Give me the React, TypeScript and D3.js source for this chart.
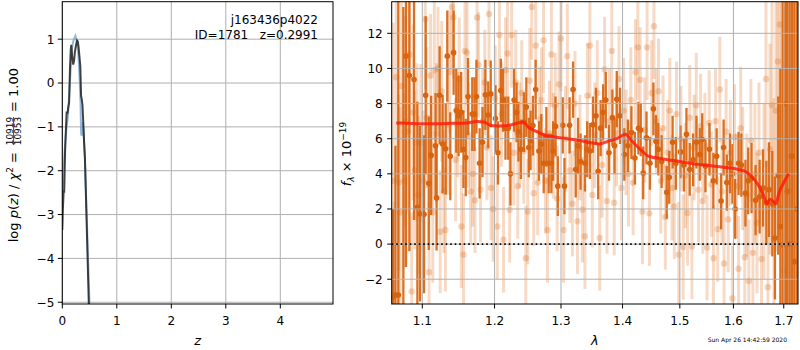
import React from 'react';
import * as d3 from 'd3';

// ---------- Left panel: redshift probability ----------
const Z_FIT = [0.0, 0.01, 0.025, 0.035, 0.05, 0.065, 0.08, 0.095, 0.11, 0.125, 0.14, 0.155, 0.165, 0.18, 0.2, 0.215, 0.23, 0.25, 0.27, 0.285, 0.3, 0.315, 0.33, 0.345, 0.355, 0.37, 0.385, 0.4, 0.415, 0.43, 0.445, 0.46, 0.475, 0.49, 0.505];
const LOGP_FIT = [-3.35, -2.9, -2.45, -2.5, -1.6, -1.1, -0.65, -0.7, -0.55, -0.45, 0.3, 0.75, 0.87, 0.6, 0.42, 0.5, 0.7, 0.85, 0.97, 0.95, 0.8, 0.6, 0.4, -0.3, -0.35, -0.5, -0.9, -1.35, -1.7, -2.4, -3.1, -3.8, -4.5, -5.2, -5.6];
const Z_PRIOR = [0.0, 0.02, 0.04, 0.06, 0.08, 0.1, 0.12, 0.14, 0.16, 0.18, 0.2, 0.22, 0.24, 0.26, 0.28, 0.3, 0.32, 0.335, 0.345, 0.355, 0.37, 0.39, 0.41, 0.43, 0.45, 0.47, 0.49, 0.51];
const LOGP_PRIOR = [-2.6, -2.1, -1.6, -1.25, -1.0, -0.8, -0.4, 0.0, 0.45, 0.8, 0.95, 1.02, 1.08, 1.0, 0.85, 0.55, 0.05, -0.5, -1.15, -1.2, -0.9, -1.1, -1.6, -2.3, -3.1, -3.9, -4.7, -5.5];
const Z_TICKS = [0, 1, 2, 3, 4];
const LOGP_TICKS = [-5, -4, -3, -2, -1, 0, 1];

// ---------- Right panel: spectrum ----------
const BIN_LAM = [1.0617, 1.0650, 1.0687, 1.0752, 1.0786, 1.0830, 1.0891, 1.0935, 1.0970, 1.1023, 1.1045, 1.1086, 1.1118, 1.1177, 1.1191, 1.1232, 1.1273, 1.1314, 1.1336, 1.1377, 1.1423, 1.1459, 1.1491, 1.1527, 1.1559, 1.1591, 1.1623, 1.1682, 1.1714, 1.1741, 1.1786, 1.1827, 1.1868, 1.1909, 1.1945, 1.2014, 1.2050, 1.2091, 1.2123, 1.2159, 1.2200, 1.2232, 1.2286, 1.2323, 1.2350, 1.2386, 1.2432, 1.2468, 1.2505, 1.2532, 1.2568, 1.2609, 1.2659, 1.2695, 1.2732, 1.2773, 1.2809, 1.2850, 1.2877, 1.2914, 1.2950, 1.3027, 1.3054, 1.3135, 1.3190, 1.3232, 1.3270, 1.3310, 1.3380, 1.3416, 1.3460, 1.3510, 1.3560, 1.3595, 1.3635, 1.3676, 1.3720, 1.3773, 1.3830, 1.3865, 1.3903, 1.3957, 1.4030, 1.4090, 1.4150, 1.4210, 1.4270, 1.4310, 1.4353, 1.4410, 1.4470, 1.4530, 1.4575, 1.4616, 1.4675, 1.4765, 1.4810, 1.4870, 1.4928, 1.5012, 1.5073, 1.5120, 1.5180, 1.5242, 1.5303, 1.5364, 1.5410, 1.5470, 1.5545, 1.5618, 1.5680, 1.5764, 1.5812, 1.5873, 1.5933, 1.5982, 1.6033, 1.6100, 1.6153, 1.6233, 1.6287, 1.6353, 1.6433, 1.6513, 1.6580, 1.6647, 1.6700, 1.6767, 1.6820, 1.6887, 1.6930, 1.6980, 1.7033, 1.7070, 1.7120, 1.7170, 1.7220, 1.7270];
const BIN_FLUX = [-3.0, -2.9, -2.9, -4.5, 10.7, 9.6, 9.37, 2.1, 1.73, 1.7, 8.47, 3.46, 5.05, 5.6, 2.63, 8.47, 5.7, 5.43, 10.7, 5.0, 10.9, 7.6, 7.3, 7.5, 5.4, 4.93, 8.4, 7.4, 7.4, 8.4, 4.6, 5.8, 8.5, 7.35, 8.55, 7.15, 5.2, 8.75, 8.2, 6.6, 6.6, 4.0, 8.2, 7.5, 6.4, 5.4, 6.95, 7.8, 5.5, 5.9, 6.75, 8.8, 5.3, 5.7, 4.6, 6.1, 4.6, 4.6, 5.3, 6.7, 3.3, 6.76, 3.3, 6.76, 8.8, 4.25, 5.6, 4.7, 4.6, 5.4, 5.3, 6.8, 7.3, 4.15, 6.6, 7.5, 8.2, 5.2, 7.2, 5.6, 8.25, 7.3, 5.1, 5.6, 6.35, 4.9, 6.6, 6.5, 4.05, 6.05, 4.6, 7.7, 5.85, 5.4, 4.7, 2.95, 3.8, 5.8, 4.6, 5.25, 4.5, 6.25, 4.25, 4.8, 5.8, 5.1, 5.95, 4.45, 5.4, 3.6, 5.0, 2.45, 5.5, 3.5, 4.6, 4.0, 2.0, 4.6, 4.5, 2.9, 3.6, 3.75, 2.5, 2.7, 3.2, 2.35, 3.1, 2.3, 0.35, 3.9, 1.0, -0.05, 8.0, 3.0, 0.0, 5.0, -1.0, 2.0];
const BIN_ERR = [
  5, 8.5, 20, 18, 12, 10, 8, 6, 5, 4.5,
  4.5, 3.8, 3.4, 3.0, 3.0, 2.8, 2.8, 2.6, 2.6, 2.5,
  2.4, 2.4, 2.3, 2.3, 2.2, 2.2, 2.2, 2.1, 2.1, 2.1,
  2.0, 2.0, 2.0, 1.9, 1.9, 1.9, 1.8, 1.8, 1.8, 1.8,
  1.8, 1.8, 1.8, 1.7, 1.7, 1.7, 1.7, 1.7, 1.7, 1.7,
  1.7, 1.7, 1.7, 1.7, 1.7, 1.7, 1.7, 1.7, 1.7, 1.7, 1.7,
  1.6, 1.6, 1.6, 1.6, 1.6, 1.6, 1.6, 1.6, 1.6, 1.6,
  1.6, 1.6, 1.6, 1.6, 1.6, 1.6, 1.6, 1.6, 1.6, 1.6, 1.6,
  1.5, 1.5, 1.5, 1.5, 1.5, 1.5, 1.5, 1.5, 1.5, 1.5,
  1.5, 1.5, 1.5, 1.5, 1.5, 1.5, 1.5, 1.5, 1.5, 1.5,
  1.5, 1.5, 1.5, 1.5, 1.5, 1.5, 1.5, 1.6, 1.6, 1.6,
  1.6, 1.6, 1.7, 1.7, 1.7, 1.8, 1.8, 1.9, 1.9, 2.0,
  2.0, 2.1, 2.2, 2.4, 2.7, 3.0, 3.5, 4.5, 9, 14,
  14, 16, 18, 20, 20, 22,
];

const RAW_LAM = [1.062, 1.064, 1.066, 1.069, 1.071, 1.073, 1.076, 1.078, 1.081, 1.083, 1.086, 1.088, 1.090, 1.093, 1.095, 1.098, 1.101, 1.104, 1.106, 1.109, 1.111, 1.114, 1.116, 1.119, 1.121, 1.124, 1.126, 1.129, 1.131, 1.134, 1.137, 1.140, 1.142, 1.145, 1.148, 1.150, 1.153, 1.156, 1.158, 1.161, 1.163, 1.166, 1.169, 1.172, 1.175, 1.177, 1.180, 1.183, 1.186, 1.189, 1.192, 1.195, 1.198, 1.201, 1.204, 1.207, 1.210, 1.213, 1.216, 1.219, 1.222, 1.225, 1.228, 1.231, 1.234, 1.237, 1.240, 1.243, 1.246, 1.249, 1.252, 1.255, 1.258, 1.261, 1.264, 1.267, 1.270, 1.273, 1.276, 1.279, 1.282, 1.285, 1.288, 1.291, 1.294, 1.297, 1.300, 1.304, 1.307, 1.310, 1.314, 1.318, 1.322, 1.326, 1.330, 1.334, 1.338, 1.342, 1.346, 1.350, 1.354, 1.358, 1.362, 1.366, 1.370, 1.374, 1.378, 1.382, 1.386, 1.390, 1.394, 1.398, 1.402, 1.406, 1.410, 1.414, 1.418, 1.422, 1.426, 1.430, 1.434, 1.438, 1.442, 1.446, 1.450, 1.454, 1.458, 1.462, 1.466, 1.470, 1.474, 1.478, 1.482, 1.486, 1.490, 1.494, 1.498, 1.502, 1.506, 1.510, 1.514, 1.518, 1.522, 1.526, 1.530, 1.534, 1.538, 1.542, 1.546, 1.550, 1.554, 1.558, 1.562, 1.566, 1.570, 1.574, 1.578, 1.582, 1.586, 1.590, 1.594, 1.598, 1.602, 1.606, 1.610, 1.614, 1.618, 1.622, 1.626, 1.630, 1.634, 1.638, 1.642, 1.646, 1.650, 1.655, 1.660, 1.664, 1.668, 1.672, 1.676, 1.680, 1.684, 1.688, 1.692, 1.696, 1.700, 1.705, 1.710, 1.715, 1.720];
const RAW_FLUX = [3.6, -3.6, 9.5, 3.5, 1.8, 9.0, 3.6, 7.0, 6.4, 10.8, -2.7, 7.5, 4.2, 5.8, 2.8, 5.75, 3.6, 12.8, 7.2, -1.6, 9.6, 1.8, 9.9, 6.3, 10.0, 0.7, 8.7, 3.0, 0.8, 6.8, 9.8, 13.5, 12.9, 4.8, 6.8, 9.4, 1.0, -0.6, 11.0, 10.9, 6.2, 3.0, 4.0, 2.5, 12.9, 10.2, 3.1, 7.0, 9.2, 5.5, 13.1, 3.2, 2.0, 8.3, 1.0, 11.9, 7.4, 0.25, 9.9, 10.85, 1.95, 11.9, 5.2, 9.2, 3.3, 6.2, 8.6, 5.3, -0.8, 1.85, 9.3, 13.5, 2.9, 11.3, 3.5, 7.1, 8.2, 11.6, 3.6, 0.8, 6.3, 10.8, 5.6, 7.9, 2.6, 9.1, 11.7, 0.8, 6.0, 10.7, 4.2, 2.3, 8.0, 1.3, 5.5, 1.96, 0.45, 8.45, 11.3, 2.8, 6.2, 8.6, 0.35, 4.5, 9.95, 2.45, 7.0, 11.0, 2.35, 6.3, 9.4, 3.2, 7.6, 5.8, 4.0, 8.2, 3.5, 9.8, 11.2, 9.35, 1.85, 6.5, 11.2, 1.75, 8.6, 12.4, 7.0, 8.7, 3.6, 6.6, 1.55, 5.2, 7.6, 3.2, 2.15, 7.4, -0.6, 6.0, -0.17, 3.9, 1.77, 7.2, -0.13, 5.5, 7.9, 3.1, 6.7, 2.45, 5.6, -0.2, 6.9, 3.4, -0.8, 7.0, 0.85, 8.8, 3.0, -1.1, 6.4, 1.4, 5.2, -3.1, 6.1, 3.3, -1.4, 6.6, 4.3, -0.75, 2.8, -2.1, 5.9, -0.5, 4.0, 1.2, 5.2, -0.85, 3.0, 9.4, -2.45, 5.4, 7.9, 0.3, 7.6, 10.4, 12.5, 2.0, -1.5, 6.0, 3.0, 5.0, 0.0];
const RAW_ERR = [
  9, 6, 6, 5, 6, 5, 5, 6, 4.5, 4.5, 4.5, 5, 4.5, 4.5, 4.5, 4.5, 4, 4, 4, 4,
  3.5, 4, 4, 4, 3.5, 3.5, 4, 3.5, 3.5, 4, 3.5, 3.5, 3.5, 3.5, 3, 3.5, 3.5, 3.5, 3.5, 3,
  3, 3, 3, 3, 3, 3, 3, 3, 3, 3, 3, 3, 3, 3, 3, 3, 3, 3, 3, 3, 3, 3, 3, 3, 3,
  3, 3, 3, 3, 3, 3, 3, 3, 3, 3, 3, 3, 3, 3, 3, 3, 3, 3, 3, 3, 3, 3, 3, 3, 3,
  3, 3, 3, 3, 3, 3, 3, 3, 3, 3, 3, 3, 3, 3, 3, 3, 3, 3, 3, 3, 3, 3, 3, 3, 3,
  3, 3, 3, 3, 3, 3, 3, 3, 3, 3, 3, 3, 3, 3, 3, 3, 3, 3, 3, 3, 3, 3, 3, 3, 3,
  3, 3, 3, 3, 3, 3, 3, 3, 3, 3, 3, 3, 3, 3, 3, 3, 3, 3, 3, 3, 3, 3, 3, 3, 3,
  3.5, 3.5, 3.5, 3.5, 3.5, 3.5, 4, 4, 4, 4, 4, 5, 5, 5, 6, 6, 8, 8, 10, 12, 15, 15, 15, 15, 15, 15,
];

const MODEL_LAM = [1.066, 1.08, 1.10, 1.12, 1.14, 1.16, 1.175, 1.185, 1.195, 1.21, 1.225, 1.235, 1.242, 1.25, 1.26, 1.275, 1.29, 1.31, 1.33, 1.35, 1.362, 1.375, 1.39, 1.405, 1.415, 1.43, 1.445, 1.47, 1.50, 1.53, 1.56, 1.59, 1.61, 1.625, 1.64, 1.652, 1.66, 1.666, 1.672, 1.678, 1.684, 1.69, 1.70, 1.71];
const MODEL_FLUX = [6.9, 6.88, 6.85, 6.85, 6.88, 6.9, 6.98, 6.95, 6.75, 6.72, 6.8, 6.9, 6.95, 6.65, 6.45, 6.2, 6.1, 6.0, 5.9, 5.75, 5.7, 5.85, 6.0, 6.25, 5.9, 5.4, 5.0, 4.85, 4.7, 4.55, 4.45, 4.35, 4.25, 4.1, 3.7, 3.2, 2.7, 2.3, 2.55, 2.45, 2.3, 2.9, 3.5, 4.0];

const LAM_TICKS = [1.1, 1.2, 1.3, 1.4, 1.5, 1.6, 1.7];
const FLUX_TICKS = [-2, 0, 2, 4, 6, 8, 10, 12];

const FONT = 'DejaVu Sans, Arial, sans-serif';
const ORANGE = '#d8640f';

export default function App() {
  const L = { x0: 62.3, x1: 333, y0: 1.7, y1: 304 };
  const R = { x0: 391.7, x1: 798, y0: 1.7, y1: 304 };

  const zx = d3.scaleLinear().domain([0, 4.967]).range([L.x0, L.x1]);
  const zy = d3.scaleLinear().domain([-5.04, 1.855]).range([L.y1, L.y0]);
  const lx = d3.scaleLog().domain([1.0602, 1.7294]).range([R.x0, R.x1]);
  const fy = d3.scaleLinear().domain([-3.41, 13.8]).range([R.y1, R.y0]);

  const zLine = d3.line<number>().x((_, i) => zx(Z_FIT[i])).y((d) => zy(d));
  const pLine = d3.line<number>().x((_, i) => zx(Z_PRIOR[i])).y((d) => zy(d));
  const mLine = d3.line<number>().x((_, i) => lx(MODEL_LAM[i])).y((d) => fy(d)).curve(d3.curveMonotoneX);

  const grid = '#b0b0b0';
  const rawN = Math.min(RAW_LAM.length, RAW_FLUX.length, RAW_ERR.length);
  const binN = Math.min(BIN_LAM.length, BIN_FLUX.length, BIN_ERR.length);
  const rawIdx = d3.range(rawN);
  const binIdx = d3.range(binN);

  return (
    <svg width={800} height={350} style={{ position: 'absolute', left: 0, top: 0, background: '#fff' }} fontFamily={FONT}>
      <defs>
        <clipPath id="clipL"><rect x={L.x0} y={L.y0} width={L.x1 - L.x0} height={L.y1 - L.y0} /></clipPath>
        <clipPath id="clipR"><rect x={R.x0} y={R.y0} width={R.x1 - R.x0} height={R.y1 - R.y0} /></clipPath>
      </defs>
      <rect x={0} y={0} width={800} height={350} fill="#fff" />

      {/* ---------------- LEFT PANEL ---------------- */}
      <g>
        {Z_TICKS.map((t) => (
          <line key={'gzx' + t} x1={zx(t)} x2={zx(t)} y1={L.y0} y2={L.y1} stroke={grid} strokeWidth={1} />
        ))}
        {LOGP_TICKS.map((t) => (
          <line key={'gzy' + t} x1={L.x0} x2={L.x1} y1={zy(t)} y2={zy(t)} stroke={grid} strokeWidth={1} />
        ))}
        <g clipPath="url(#clipL)">
          <path d={pLine(LOGP_PRIOR) || ''} fill="none" stroke="#6fa3d0" strokeOpacity={0.75} strokeWidth={2} />
          <path d={zLine(LOGP_FIT) || ''} fill="none" stroke="#222" strokeOpacity={0.85} strokeWidth={2} />
        </g>
        <rect x={L.x0} y={L.y0} width={L.x1 - L.x0} height={L.y1 - L.y0} fill="none" stroke="#000" strokeWidth={1} />
        {Z_TICKS.map((t) => (
          <g key={'tzx' + t}>
            <line x1={zx(t)} x2={zx(t)} y1={L.y1} y2={L.y1 + 4.5} stroke="#000" strokeWidth={1} />
            <text x={zx(t)} y={325} fontSize={12} textAnchor="middle">{t}</text>
          </g>
        ))}
        {LOGP_TICKS.map((t) => (
          <g key={'tzy' + t}>
            <line x1={L.x0 - 4.5} x2={L.x0} y1={zy(t)} y2={zy(t)} stroke="#000" strokeWidth={1} />
            <text x={L.x0 - 8} y={zy(t)} dy="0.36em" fontSize={12} textAnchor="end">{t < 0 ? '\u2212' + Math.abs(t) : t}</text>
          </g>
        ))}
        <text x={(L.x0 + L.x1) / 2} y={345} fontSize={13} textAnchor="middle" fontStyle="italic">z</text>
        <text x={318} y={24} fontSize={12} textAnchor="end">j163436p4022</text>
        <text x={318} y={39} fontSize={12} textAnchor="end" xmlSpace="preserve">ID=1781   z=0.2991</text>
        {/* y label */}
        <g transform="translate(18,153) rotate(-90)">
          <text x={1} y={0} fontSize={13} textAnchor="end">
            log <tspan fontStyle="italic">p</tspan>(<tspan fontStyle="italic">z</tspan>) / <tspan fontStyle="italic">χ</tspan>
            <tspan fontSize={9} dy={-5}>2</tspan><tspan dy={5}> =</tspan>
          </text>
          <text x={22} y={-5.5} fontSize={9} textAnchor="middle">10919</text>
          <line x1={8} x2={36} y1={-4.4} y2={-4.4} stroke="#000" strokeWidth={0.7} />
          <text x={22} y={3.4} fontSize={9} textAnchor="middle">10953</text>
          <text x={41} y={0} fontSize={13} textAnchor="start">= 1.00</text>
        </g>
      </g>

      {/* ---------------- RIGHT PANEL ---------------- */}
      <g>
        <g clipPath="url(#clipR)">
          {/* unbinned spectrum, faint */}
          {rawIdx.map((i) => (
            <line key={'rb' + i} x1={lx(RAW_LAM[i])} x2={lx(RAW_LAM[i])} y1={fy(RAW_FLUX[i] - RAW_ERR[i])} y2={fy(RAW_FLUX[i] + RAW_ERR[i])} stroke={ORANGE} strokeOpacity={0.24} strokeWidth={3} />
          ))}
          {rawIdx.map((i) => (
            <circle key={'rc' + i} cx={lx(RAW_LAM[i])} cy={fy(RAW_FLUX[i])} r={3.2} fill={ORANGE} fillOpacity={0.26} />
          ))}
          {/* binned spectrum */}
          {binIdx.map((i) => (
            <line key={'bb' + i} x1={lx(BIN_LAM[i])} x2={lx(BIN_LAM[i])} y1={fy(BIN_FLUX[i] - BIN_ERR[i])} y2={fy(BIN_FLUX[i] + BIN_ERR[i])} stroke={ORANGE} strokeOpacity={0.92} strokeWidth={2.3} />
          ))}
          {binIdx.map((i) => (
            <circle key={'bc' + i} cx={lx(BIN_LAM[i])} cy={fy(BIN_FLUX[i])} r={2.8} fill={ORANGE} />
          ))}
          {/* grid on top */}
          {LAM_TICKS.map((t) => (
            <line key={'glx' + t} x1={lx(t)} x2={lx(t)} y1={R.y0} y2={R.y1} stroke={grid} strokeWidth={1} />
          ))}
          {FLUX_TICKS.map((t) => (
            <line key={'gly' + t} x1={R.x0} x2={R.x1} y1={fy(t)} y2={fy(t)} stroke={grid} strokeWidth={1} />
          ))}
          <path d={mLine(MODEL_FLUX) || ''} fill="none" stroke="#ff1a0a" strokeOpacity={0.82} strokeWidth={3} />
          <line x1={R.x0} x2={R.x1} y1={fy(0)} y2={fy(0)} stroke="#000" strokeWidth={1.6} strokeDasharray="1.6 2.9" />
        </g>
        <rect x={R.x0} y={R.y0} width={R.x1 - R.x0} height={R.y1 - R.y0} fill="none" stroke="#000" strokeWidth={1} />
        {LAM_TICKS.map((t) => (
          <g key={'tlx' + t}>
            <line x1={lx(t)} x2={lx(t)} y1={R.y1} y2={R.y1 + 4.5} stroke="#000" strokeWidth={1} />
            <text x={lx(t)} y={325} fontSize={12} textAnchor="middle">{t.toFixed(1)}</text>
          </g>
        ))}
        {FLUX_TICKS.map((t) => (
          <g key={'tly' + t}>
            <line x1={R.x0 - 4.5} x2={R.x0} y1={fy(t)} y2={fy(t)} stroke="#000" strokeWidth={1} />
            <text x={R.x0 - 9} y={fy(t)} dy="0.36em" fontSize={12} textAnchor="end">{t < 0 ? '\u2212' + Math.abs(t) : t}</text>
          </g>
        ))}
        <text x={(R.x0 + R.x1) / 2} y={345} fontSize={13} textAnchor="middle" fontStyle="italic">λ</text>
        <g transform="translate(351,154) rotate(-90)">
          <text x={0} y={0} fontSize={13} textAnchor="middle">
            <tspan fontStyle="italic">f</tspan><tspan fontSize={9} fontStyle="italic" dy={3}>λ</tspan><tspan dy={-3}> × 10</tspan><tspan fontSize={9} dy={-5.5}>−19</tspan>
          </text>
        </g>
        <text x={787} y={342} fontSize={6} textAnchor="end">Sun Apr 26 14:42:59 2020</text>
      </g>
    </svg>
  );
}
